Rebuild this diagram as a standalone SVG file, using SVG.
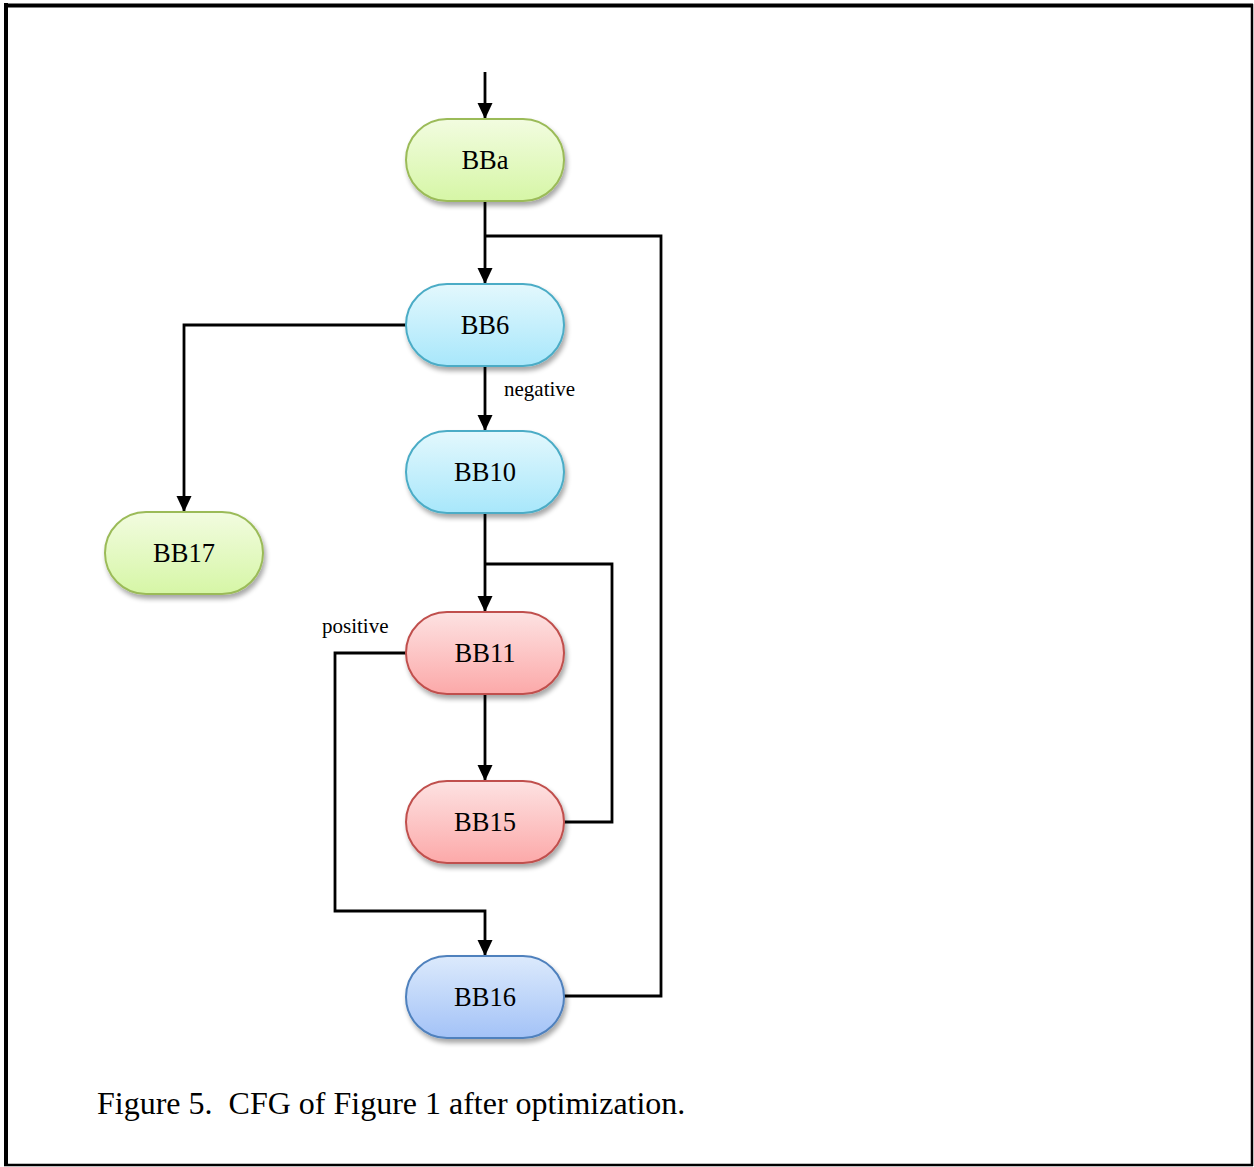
<svg xmlns="http://www.w3.org/2000/svg" width="1254" height="1167" viewBox="0 0 1254 1167">
<style>
.node text{font-family:"Liberation Serif","Times New Roman",serif;font-size:26.5px;fill:#000;text-anchor:middle}
.lbl{font-family:"Liberation Serif","Times New Roman",serif;font-size:21px;fill:#000}
.cap{font-family:"Liberation Serif","Times New Roman",serif;font-size:32px;fill:#000;white-space:pre}
.edge{fill:none;stroke:#000;stroke-width:2.8}
</style>
<defs>
<marker id="arr" markerWidth="16" markerHeight="16" refX="15" refY="7.5" orient="auto" markerUnits="userSpaceOnUse" viewBox="0 0 16 15">
<path d="M0,0 L16,7.5 L0,15 Z" fill="#000"/>
</marker>
<linearGradient id="gGreen" x1="0" y1="0" x2="0" y2="1"><stop offset="0" stop-color="#f2fce0"/><stop offset="1" stop-color="#d6f6a6"/></linearGradient>
<linearGradient id="gCyan" x1="0" y1="0" x2="0" y2="1"><stop offset="0" stop-color="#e3f8fd"/><stop offset="1" stop-color="#a8e7fb"/></linearGradient>
<linearGradient id="gRed" x1="0" y1="0" x2="0" y2="1"><stop offset="0" stop-color="#fde2e2"/><stop offset="1" stop-color="#fca9a9"/></linearGradient>
<linearGradient id="gBlue" x1="0" y1="0" x2="0" y2="1"><stop offset="0" stop-color="#dceafc"/><stop offset="1" stop-color="#a3c2f7"/></linearGradient>
<filter id="sh" x="-20%" y="-20%" width="140%" height="150%">
<feGaussianBlur in="SourceAlpha" stdDeviation="2.5"/>
<feOffset dx="2" dy="4" result="b"/>
<feComponentTransfer><feFuncA type="linear" slope="0.35"/></feComponentTransfer>
<feMerge><feMergeNode/><feMergeNode in="SourceGraphic"/></feMerge>
</filter>
</defs>
<rect width="1254" height="1167" fill="#fff"/>
<g id="frame" stroke="#000" fill="none">
<line x1="6" y1="3" x2="6" y2="1166" stroke-width="4"/>
<line x1="4" y1="5.5" x2="1253" y2="5.5" stroke-width="4"/>
<line x1="1252" y1="4" x2="1252" y2="1166" stroke-width="2.5"/>
<line x1="4" y1="1165" x2="1253" y2="1165" stroke-width="2.5"/>
</g>
<g id="connectors">
<path class="edge" d="M485,72 L485,118" marker-end="url(#arr)"/>
<path class="edge" d="M485,201 L485,283" marker-end="url(#arr)"/>
<path class="edge" d="M564,996 L661,996 L661,236 L485,236"/>
<path class="edge" d="M406,325 L184,325 L184,511" marker-end="url(#arr)"/>
<path class="edge" d="M485,366 L485,430" marker-end="url(#arr)"/>
<path class="edge" d="M485,513 L485,611" marker-end="url(#arr)"/>
<path class="edge" d="M564,822 L612,822 L612,564 L485,564"/>
<path class="edge" d="M485,694 L485,780" marker-end="url(#arr)"/>
<path class="edge" d="M406,653 L335,653 L335,911 L485,911 L485,955" marker-end="url(#arr)"/>
<text class="lbl" x="504" y="396">negative</text>
<text class="lbl" x="322" y="633">positive</text>
</g>
<g id="BBa" class="node"><rect x="406" y="119" width="158" height="82" rx="41" fill="url(#gGreen)" stroke="#9bbb59" stroke-width="2" filter="url(#sh)"/><text x="485" y="169">BBa</text></g>
<g id="BB6" class="node"><rect x="406" y="284" width="158" height="82" rx="41" fill="url(#gCyan)" stroke="#4bacc6" stroke-width="2" filter="url(#sh)"/><text x="485" y="334">BB6</text></g>
<g id="BB10" class="node"><rect x="406" y="431" width="158" height="82" rx="41" fill="url(#gCyan)" stroke="#4bacc6" stroke-width="2" filter="url(#sh)"/><text x="485" y="481">BB10</text></g>
<g id="BB17" class="node"><rect x="105" y="512" width="158" height="82" rx="41" fill="url(#gGreen)" stroke="#9bbb59" stroke-width="2" filter="url(#sh)"/><text x="184" y="562">BB17</text></g>
<g id="BB11" class="node"><rect x="406" y="612" width="158" height="82" rx="41" fill="url(#gRed)" stroke="#c0504d" stroke-width="2" filter="url(#sh)"/><text x="485" y="662">BB11</text></g>
<g id="BB15" class="node"><rect x="406" y="781" width="158" height="82" rx="41" fill="url(#gRed)" stroke="#c0504d" stroke-width="2" filter="url(#sh)"/><text x="485" y="831">BB15</text></g>
<g id="BB16" class="node"><rect x="406" y="956" width="158" height="82" rx="41" fill="url(#gBlue)" stroke="#4f81bd" stroke-width="2" filter="url(#sh)"/><text x="485" y="1006">BB16</text></g>
<text class="cap" x="97" y="1114" xml:space="preserve">Figure 5.  CFG of Figure 1 after optimization.</text>
</svg>
